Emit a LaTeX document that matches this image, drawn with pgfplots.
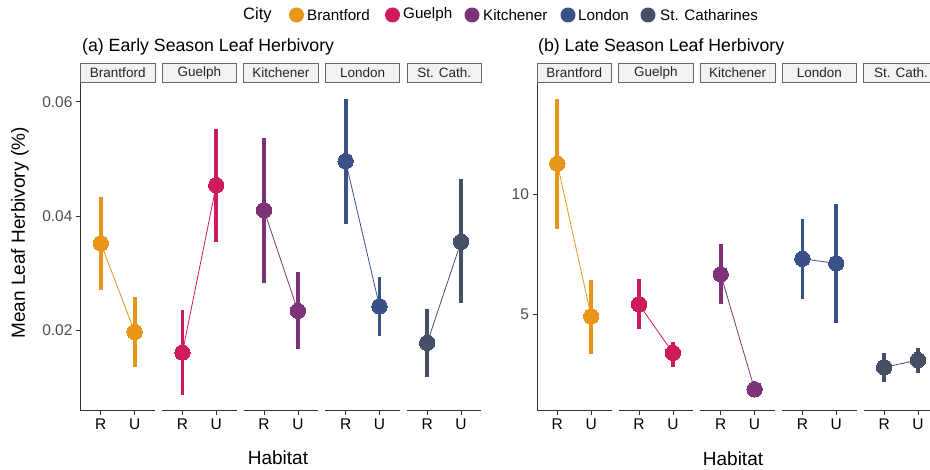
\documentclass[border=0pt]{standalone}
\usepackage{pgfplots}
\pgfplotsset{compat=1.18}
\usepackage{fontspec}
\setmainfont{Liberation Sans}
\definecolor{cBra}{HTML}{E8961A}
\definecolor{cGue}{HTML}{D01A5E}
\definecolor{cKit}{HTML}{7E3379}
\definecolor{cLon}{HTML}{3A5188}
\definecolor{cStc}{HTML}{474F66}
\definecolor{axgray}{HTML}{333333}
\definecolor{tickgray}{HTML}{4D4D4D}
\definecolor{stripfill}{HTML}{F2F2F2}

% early season
\pgfplotstableread{
x y ep em
1 0.0352 0.0081 0.0081
2 0.0197 0.0061 0.0062
}\aBra
\pgfplotstableread{
x y ep em
1 0.0161 0.0075 0.0075
2 0.0454 0.0098 0.0099
}\aGue
\pgfplotstableread{
x y ep em
1 0.0410 0.0127 0.0127
2 0.0234 0.0068 0.0067
}\aKit
\pgfplotstableread{
x y ep em
1 0.0496 0.0109 0.0110
2 0.0242 0.0052 0.0052
}\aLon
\pgfplotstableread{
x y ep em
1 0.0178 0.0060 0.0059
2 0.0355 0.0109 0.0108
}\aStc
% late season
\pgfplotstableread{
x y ep em
1 11.26 2.71 2.71
2 4.90 1.52 1.55
}\bBra
\pgfplotstableread{
x y ep em
1 5.40 1.05 1.03
2 3.38 0.44 0.60
}\bGue
\pgfplotstableread{
x y ep em
1 6.65 1.25 1.22
2 1.86 0.00 0.00
}\bKit
\pgfplotstableread{
x y ep em
1 7.30 1.66 1.68
2 7.11 2.47 2.50
}\bLon
\pgfplotstableread{
x y ep em
1 2.78 0.60 0.60
2 3.08 0.52 0.52
}\bStc

\pgfplotsset{
  facet/.style={
    scale only axis, width=74.5pt, height=327.7pt, anchor=south west,
    xmin=0.4, xmax=2.6, xtick={1,2}, xticklabels={R,U},
    axis x line*=bottom,
    axis line style={axgray, line width=0.7pt, -},
    tick style={axgray, line width=0.7pt},
    tick align=outside, major tick length=4pt,
    x tick label style={font=\fontsize{15.5}{15.5}\selectfont, black, yshift=-1pt},
    y tick label style={font=\fontsize{15.5}{15.5}\selectfont, tickgray, xshift=-0.5pt},
    /pgf/number format/assume math mode=true,
    scaled y ticks=false,
    clip=false,
  },
  firstfacet/.style={axis y line*=left},
  otherfacet/.style={axis y line=none, ytick=\empty},
  ser/.style={color=#1, line width=0.8pt, mark=*, mark size=7.7pt,
    mark options={fill=#1, draw=#1, line width=0pt},
    error bars/.cd, y dir=both, y explicit,
    error mark=none, error bar style={line width=3.8pt, #1}},
}

\newcommand{\strip}[1]{%
  \draw[black!60, fill=stripfill, line width=0.7pt] ([yshift=0.5pt]rel axis cs:0,1) rectangle ([yshift=20pt]rel axis cs:1,1);
  \node[font=\fontsize{13.5}{13.5}\selectfont, text=black!85] at ([yshift=10.3pt]rel axis cs:0.5,1) {#1};
}
\newcommand{\series}[2]{%
  \addplot[ser=#1] table[x=x, y=y, y error plus=ep, y error minus=em] {#2};
}

\begin{document}
\begin{tikzpicture}
\useasboundingbox (0pt,0pt) rectangle (930pt,470pt);

% ---- panel a ----
\begin{axis}[facet, firstfacet, ymin=0.00593, ymax=0.06327, ytick={0.02,0.04,0.06},
  yticklabel style={/pgf/number format/fixed, /pgf/number format/fixed zerofill, /pgf/number format/precision=2},
  at={(80.5pt,59.3pt)}]
\series{cBra}{\aBra}
\strip{Brantford}
\end{axis}
\begin{axis}[facet, otherfacet, ymin=0.00593, ymax=0.06327, at={(162.1pt,59.3pt)}]
\series{cGue}{\aGue}
\strip{Guelph}
\end{axis}
\begin{axis}[facet, otherfacet, ymin=0.00593, ymax=0.06327, at={(243.7pt,59.3pt)}]
\series{cKit}{\aKit}
\strip{Kitchener}
\end{axis}
\begin{axis}[facet, otherfacet, ymin=0.00593, ymax=0.06327, at={(325.3pt,59.3pt)}]
\series{cLon}{\aLon}
\strip{London}
\end{axis}
\begin{axis}[facet, otherfacet, ymin=0.00593, ymax=0.06327, at={(406.9pt,59.3pt)}]
\series{cStc}{\aStc}
\strip{St. Cath.}
\end{axis}

% ---- panel b ----
\begin{axis}[facet, firstfacet, ymin=0.971, ymax=14.625, ytick={5,10}, at={(537pt,59.3pt)}]
\series{cBra}{\bBra}
\strip{Brantford}
\end{axis}
\begin{axis}[facet, otherfacet, ymin=0.971, ymax=14.625, at={(618.7pt,59.3pt)}]
\series{cGue}{\bGue}
\strip{Guelph}
\end{axis}
\begin{axis}[facet, otherfacet, ymin=0.971, ymax=14.625, at={(700.4pt,59.3pt)}]
\series{cKit}{\bKit}
\strip{Kitchener}
\end{axis}
\begin{axis}[facet, otherfacet, ymin=0.971, ymax=14.625, at={(782.1pt,59.3pt)}]
\series{cLon}{\bLon}
\strip{London}
\end{axis}
\begin{axis}[facet, otherfacet, ymin=0.971, ymax=14.625, at={(863.8pt,59.3pt)}]
\series{cStc}{\bStc}
\strip{St. Cath.}
\end{axis}

% titles
\node[anchor=west, inner sep=0pt, font=\fontsize{17.7}{17.7}\selectfont] at (82pt,423pt) {(a) Early Season Leaf Herbivory};
\node[anchor=west, inner sep=0pt, font=\fontsize{17.7}{17.7}\selectfont] at (538pt,423pt) {(b) Late Season Leaf Herbivory};
% axis titles
\node[rotate=90, font=\fontsize{19}{19}\selectfont] at (20pt,237pt) {Mean Leaf Herbivory (\%)};
\node[font=\fontsize{19}{19}\selectfont] at (278pt,12pt) {Habitat};
\node[font=\fontsize{19}{19}\selectfont] at (733pt,11pt) {Habitat};

% legend
\node[anchor=west, inner sep=0pt, font=\fontsize{16.5}{16.5}\selectfont] at (243pt,455pt) {City};
\foreach \c/\xx/\tx/\t in {cBra/296.5/307/Brantford, cGue/392.5/403/Guelph, cKit/472/483/Kitchener, cLon/568/578/London, cStc/648/660/St. Catharines}{
  \fill[\c] (\xx pt,455pt) circle (7.5pt);
  \node[anchor=west, inner sep=0pt, font=\fontsize{15.2}{15.2}\selectfont] at (\tx pt,455pt) {\t};
}
\end{tikzpicture}
\end{document}
